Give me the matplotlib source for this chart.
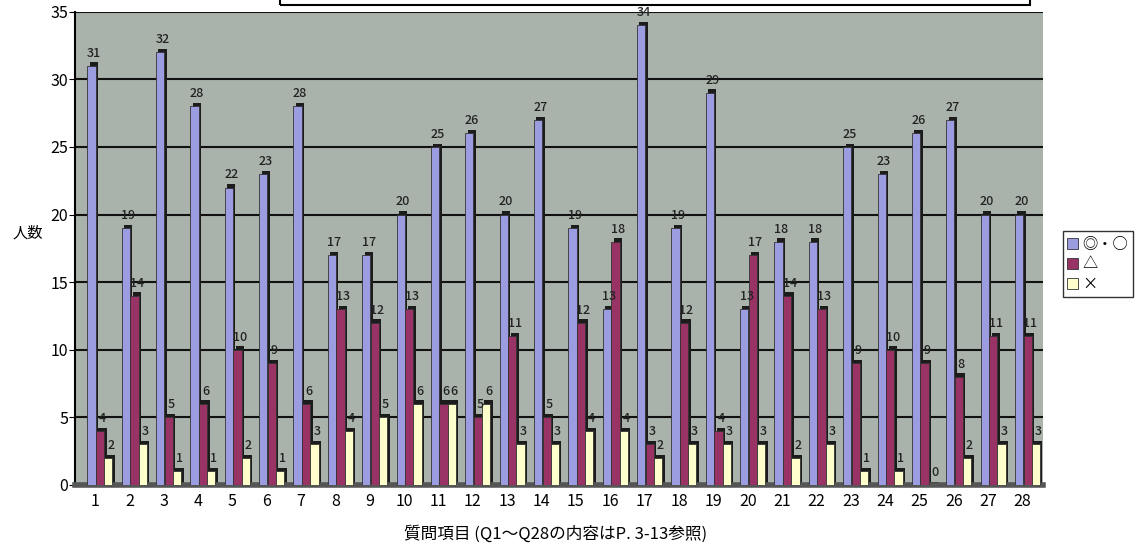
import numpy as np
import matplotlib.pyplot as plt
from matplotlib.patches import Rectangle

plt.rcParams['font.family'] = ['Noto Sans CJK JP', 'DejaVu Sans']

# 質問項目ごとの回答人数
questions = [str(i) for i in range(1, 29)]
good = [31, 19, 32, 28, 22, 23, 28, 17, 17, 20, 25, 26, 20, 27,
        19, 13, 34, 19, 29, 13, 18, 18, 25, 23, 26, 27, 20, 20]
mid = [4, 14, 5, 6, 10, 9, 6, 13, 12, 13, 6, 5, 11, 5,
       12, 18, 3, 12, 4, 17, 14, 13, 9, 10, 9, 8, 11, 11]
bad = [2, 3, 1, 1, 2, 1, 3, 4, 5, 6, 6, 6, 3, 3,
       4, 4, 2, 3, 3, 3, 2, 3, 1, 1, 0, 2, 3, 3]
series_names = ['◎・○', '△', '×']
colors = ['#9c9ce0', '#993366', '#ffffcc']

fig = plt.figure(figsize=(11.43, 5.49), dpi=100)
ax = fig.add_axes([0.0656, 0.1166, 0.847, 0.862])
ax.set_facecolor('#aab3ab')

x = np.arange(1, 29)
w = 0.24
offsets = [-0.1, 0.15, 0.39]
shadow = '#1c1c1c'

for vals, off, col, name in zip([good, mid, bad], offsets, colors, series_names):
    vals = np.array(vals)
    # 立体風の影
    ax.bar(x + off + 0.07, vals + 0.25, width=w, color=shadow, zorder=2)
    ax.bar(x + off, vals, width=w, color=col, edgecolor='#333333',
           linewidth=0.6, zorder=3, label=name)
    for xi, v in zip(x + off, vals):
        ax.text(xi + 0.07, v + 0.45, str(v), ha='center', va='bottom',
                fontsize=9, color='#222222', zorder=4, fontweight='medium')

ax.set_xlim(0.42, 28.6)
ax.set_ylim(0, 35)
ax.set_yticks(range(0, 36, 5))
ax.set_xticks(x)
ax.set_xticklabels(questions)
ax.yaxis.grid(True, color='#111111', linewidth=1.5)
ax.set_axisbelow(True)
ax.tick_params(axis='y', labelsize=11.5, length=4, direction='out', pad=1)
ax.tick_params(axis='x', labelsize=11.5, length=0, pad=6)
for s in ['top', 'right']:
    ax.spines[s].set_visible(False)
ax.spines['left'].set_linewidth(1.5)
ax.spines['bottom'].set_linewidth(4)
ax.spines['bottom'].set_color('#555555')

fig.text(0.0245, 0.575, '人数', ha='center', va='center', fontsize=11)
fig.text(0.486, 0.027, '質問項目 (Q1～Q28の内容はP. 3-13参照)',
         ha='center', va='center', fontsize=12)

leg = fig.legend(loc='center left', bbox_to_anchor=(0.927, 0.519),
                 fontsize=11, frameon=True, fancybox=False, edgecolor='black',
                 handlelength=0.7, handleheight=0.7, handletextpad=0.3,
                 labelspacing=0.2, borderpad=0.3, borderaxespad=0.2)
leg.get_frame().set_linewidth(1.0)

# 上部のタイトル枠（切れている）
fig.add_artist(Rectangle((280 / 1143, 1 - 5 / 549), 750 / 1143, 0.05,
                         transform=fig.transFigure, fill=False,
                         edgecolor='black', linewidth=1.5))

fig.savefig('out.png', dpi=100)
